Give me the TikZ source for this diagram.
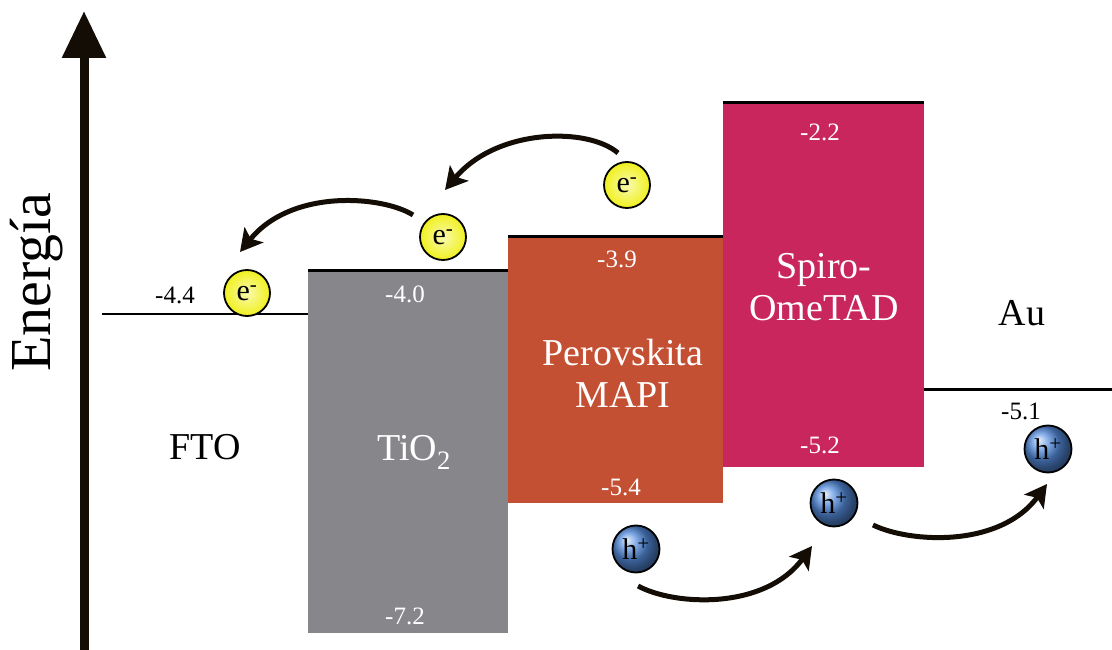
\documentclass[tikz,border=0pt]{standalone}
\usepackage{fontspec}
\setmainfont{Liberation Serif}
\usetikzlibrary{arrows.meta}
\definecolor{tiogray}{RGB}{135,134,139}
\definecolor{perov}{RGB}{196,80,52}
\definecolor{spiro}{RGB}{200,38,92}
\definecolor{eyellow}{RGB}{240,240,30}
\definecolor{hblue}{RGB}{85,140,220}
\begin{document}
\begin{tikzpicture}[x=1pt,y=-1pt,
  bandbox/.style={draw=none, inner sep=0pt, outer sep=0pt, anchor=north west},
  level/.style={line width=3pt, black},
  num/.style={font=\fontsize{25}{25}\selectfont, text=white},
  numdark/.style={font=\fontsize{25}{25}\selectfont, text=black},
  lbl/.style={font=\fontsize{38}{42}\selectfont, text=white, align=center},
  lbldark/.style={font=\fontsize{38}{42}\selectfont, text=black},
  electron/.style={circle, draw=black, line width=1.8pt, minimum size=46pt, inner sep=0pt,
    inner color=eyellow!35!white, outer color=eyellow, font=\fontsize{30}{30}\selectfont},
  hole/.style={circle, draw=black, line width=1.8pt, minimum size=47pt, inner sep=0pt,
    ball color=hblue, font=\fontsize{30}{30}\selectfont},
  hop/.style={line width=5pt, black!90!brown, -{Stealth[length=22pt,width=24pt,inset=5pt]}}
]
\useasboundingbox (0,0) rectangle (1112,650);

% energy axis
\coordinate (axb) at (84,650);
\coordinate (axt) at (84,11);
\draw[line width=9pt, black!90!brown, -{Triangle[length=47pt,width=42pt]}] (axb) -- (axt);
\node[rotate=90, font=\fontsize{58}{58}\selectfont] (energia) at (37,282) {Energía};

% FTO
\coordinate (ftoL) at (102,314);
\coordinate (ftoR) at (308,314);
\draw[line width=2pt] (ftoL) -- (ftoR);
\node[numdark] (n44) at (175,295) {-4.4};
\node[lbldark] (fto) at (205,447) {FTO};

% TiO2
\node[bandbox, fill=tiogray, minimum width=200pt, minimum height=363pt] (tio2) at (308,270) {};
\draw[level] (tio2.north west) -- (tio2.north east);
\node[num] (n40) at (405,294) {-4.0};
\node[num] (n72) at (405,616) {-7.2};
\node[lbl] (tiolbl) at (414,452) {TiO\textsubscript{2}};

% Perovskite
\node[bandbox, fill=perov, minimum width=215pt, minimum height=267pt] (pero) at (508,236) {};
\draw[level] (pero.north west) -- (pero.north east);
\node[num] (n39) at (617,259) {-3.9};
\node[num] (n54) at (621,487) {-5.4};
\node[lbl] (perolbl) at (623,373) {Perovskita\\MAPI};

% Spiro
\node[bandbox, fill=spiro, minimum width=201pt, minimum height=364pt] (spiro) at (723,103) {};
\draw[level] (spiro.north west) -- (spiro.north east);
\node[num] (n22) at (820,132) {-2.2};
\node[num] (n52) at (820,445) {-5.2};
\node[lbl] (spirolbl) at (824,287) {Spiro-\\OmeTAD};

% Au
\coordinate (auL) at (924,389);
\coordinate (auR) at (1112,389);
\draw[level] (auL) -- (auR);
\node[lbldark] (au) at (1022,313) {Au};
\node[numdark] (n51) at (1021,411) {-5.1};

% electrons
\node[electron] (e1) at (247,293) {e\textsuperscript{-}};
\node[electron] (e2) at (443,237) {e\textsuperscript{-}};
\node[electron] (e3) at (627,185) {e\textsuperscript{-}};

% holes
\node[hole] (h1) at (636,549) {h\textsuperscript{+}};
\node[hole] (h2) at (834,503) {h\textsuperscript{+}};
\node[hole] (h3) at (1048,449) {h\textsuperscript{+}};

% hopping arrows
\coordinate (a1s) at (618,153);
\coordinate (a1e) at (445,190);
\draw[hop] (a1s) .. controls (588,127) and (497,128) .. (a1e);
\coordinate (a2s) at (413,215);
\coordinate (a2e) at (240,252);
\draw[hop] (a2s) .. controls (383,196) and (292,188) .. (a2e);
\coordinate (a3s) at (638,586);
\coordinate (a3e) at (812,546);
\draw[hop] (a3s) .. controls (675,606) and (765,610) .. (a3e);
\coordinate (a4s) at (873,525);
\coordinate (a4e) at (1047,484);
\draw[hop] (a4s) .. controls (910,543) and (1000,548) .. (a4e);
\end{tikzpicture}
\end{document}
